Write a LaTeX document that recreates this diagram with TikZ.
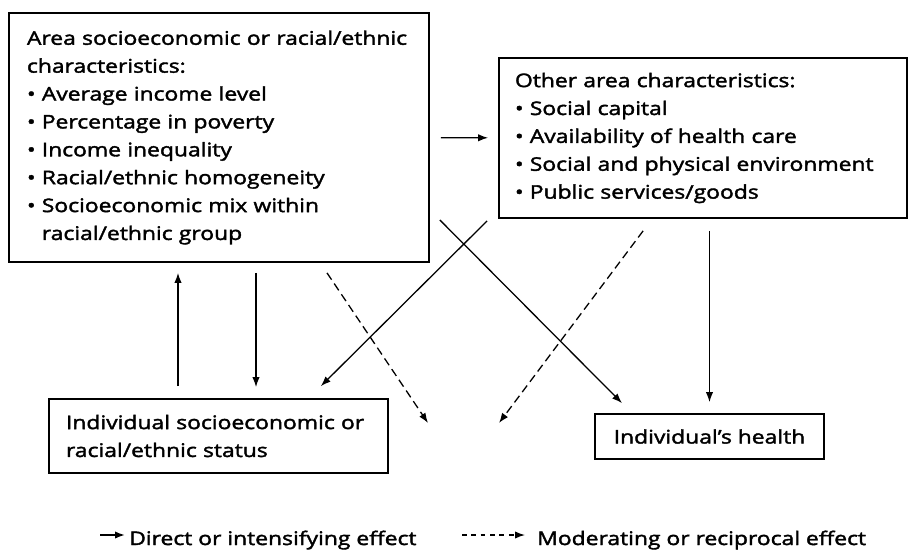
\documentclass[tikz,border=0pt]{standalone}
\usepackage{fontspec}
\setmainfont{Open Sans}[FakeStretch=1.22, FakeBold=2]
\usepackage{tikz}
\usetikzlibrary{arrows.meta}

\newcommand{\blt}{\textbullet\ }

\begin{document}
\begin{tikzpicture}[
    >={Latex[length=3mm, width=2.2mm]},
    box/.style={
        rectangle, draw, line width=1.5pt,
        inner xsep=0.5cm, inner ysep=0pt, align=left,
        font=\fontsize{16}{23.8}\selectfont
    },
    lbl/.style={font=\fontsize{16}{18}\selectfont, inner sep=0pt, anchor=base west},
    arr/.style={->, line width=1.1pt},
    modarr/.style={arr, dash pattern=on 7pt off 4pt}
]
\useasboundingbox (0,0) rectangle (27.27,-16.5);
\node[box, inner xsep=0.54cm, text width=11.52cm, minimum height=7.47cm] (area) at (6.57,-4.125) {Area socioeconomic or racial/ethnic\\characteristics:\\\blt Average income level\\\blt Percentage in poverty\\\blt Income inequality\\\blt Racial/ethnic homogeneity\\\blt Socioeconomic mix within\\\phantom{\blt}racial/ethnic group};
\node[box, inner xsep=0.48cm, text width=11.28cm, minimum height=4.8cm] (other) at (21.09,-4.14) {Other area characteristics:\\\blt Social capital\\\blt Availability of health care\\\blt Social and physical environment\\\blt Public services/goods};
\node[box, inner xsep=0.51cm, text width=9.15cm, minimum height=2.22cm] (indiv) at (6.555,-13.08) {Individual socioeconomic or\\racial/ethnic status};
\node[box, align=center, minimum width=6.87cm, minimum height=1.35cm] (health) at (21.285,-13.095) {Individual's health};
\coordinate (modl) at (12.84,-12.69);
\coordinate (modr) at (14.97,-12.69);
\draw[arr, shorten <=0.33cm, shorten >=0.3cm] (area) -- (other);
\draw[arr, shorten <=0.36cm, shorten >=0.3cm] ([xshift=-1.215cm]indiv.north) -- ([xshift=-1.215cm]indiv.north |- area.south);
\draw[arr, shorten <=0.3cm, shorten >=0.33cm] ([xshift=1.125cm]indiv.north |- area.south) -- ([xshift=1.125cm]indiv.north);
\draw[arr] ([shift={(0.3cm,-2.475cm)}]area.east) -- ([shift={(-2.625cm,0.3cm)}]health.north);
\draw[arr] ([shift={(-0.33cm,-0.06cm)}]other.south west) -- ([shift={(-2.04cm,0.36cm)}]indiv.north east);
\draw[arr, shorten <=0.36cm, shorten >=0.33cm] (other.south -| health.north) -- (health.north);
\draw[modarr] ([shift={(3.24cm,-0.3cm)}]area.south) -- (modl);
\draw[modarr] ([shift={(4.35cm,-0.36cm)}]other.south west) -- (modr);
% key
\node[lbl] (ldirect) at (3.87,-16.35) {Direct or intensifying effect};
\node[lbl] (lmod) at (16.11,-16.35) {Moderating or reciprocal effect};
\coordinate (lsolid) at (3.0,-16.05);
\coordinate (ldash) at (13.86,-16.05);
\draw[arr, line width=1.4pt, shorten >=0.12cm] (lsolid) -- (lsolid -| ldirect.west);
\draw[modarr, dash pattern=on 4pt off 4pt, shorten >=0.36cm] (ldash) -- (ldash -| lmod.west);
\end{tikzpicture}
\end{document}
